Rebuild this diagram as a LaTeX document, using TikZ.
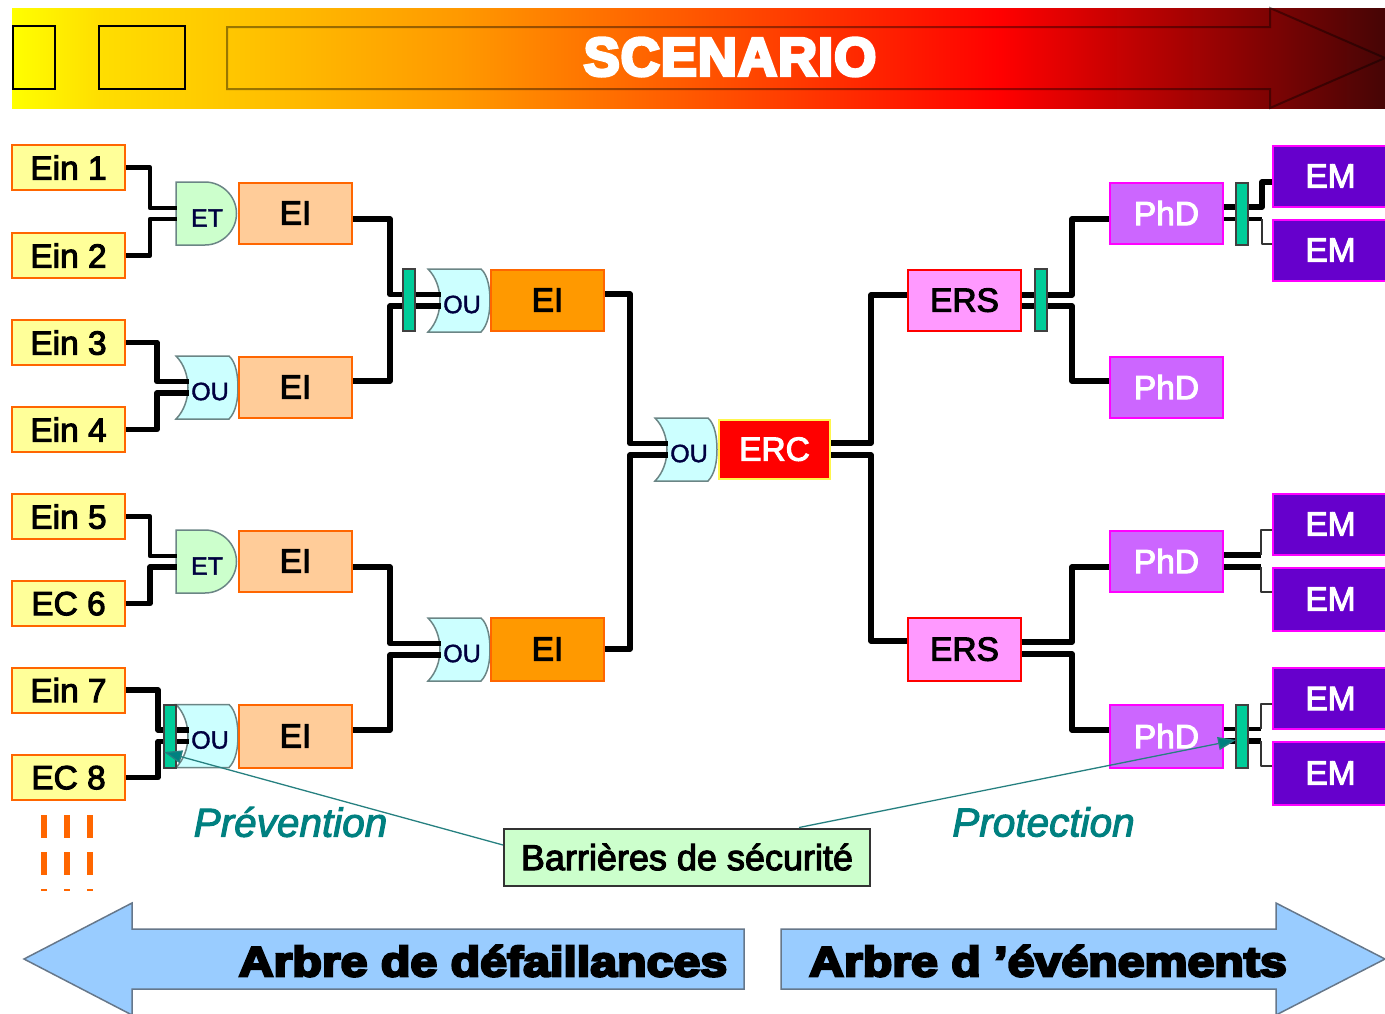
\documentclass[tikz,border=0pt]{standalone}
\usepackage{fontspec}
\usetikzlibrary{calc,arrows.meta}
\setmainfont{Liberation Sans}
\newfontfamily\boxf{Liberation Sans}[FakeBold=3]
\newfontfamily\gatef{Liberation Sans}[FakeBold=1.5]
\newfontfamily\heavyf{Liberation Sans}[BoldFeatures={FakeBold=6,FakeStretch=1.15}]
\newfontfamily\titlef{Liberation Sans}[BoldFeatures={FakeBold=6,LetterSpace=2}]
\newfontfamily\italf{Liberation Sans}[ItalicFeatures={FakeBold=2.5}]
\definecolor{cyel}{RGB}{255,255,0}
\definecolor{cyelb}{RGB}{255,222,0}
\definecolor{cyelc}{RGB}{255,198,0}
\definecolor{cora}{RGB}{255,153,0}
\definecolor{cred}{RGB}{255,0,0}
\definecolor{cdark}{RGB}{70,5,5}
\definecolor{inF}{HTML}{FFFF99}
\definecolor{oraB}{HTML}{FF6600}
\definecolor{eiF}{HTML}{FFCC99}
\definecolor{ei2F}{HTML}{FF9900}
\definecolor{ersF}{HTML}{FF99FF}
\definecolor{phdF}{HTML}{CC66FF}
\definecolor{mag}{HTML}{FF00FF}
\definecolor{emF}{HTML}{6600CC}
\definecolor{andF}{HTML}{CCFFCC}
\definecolor{orF}{HTML}{CCFFFF}
\definecolor{gateB}{HTML}{6B8585}
\definecolor{barF}{HTML}{00CC99}
\definecolor{teal2}{HTML}{008080}
\definecolor{arrF}{HTML}{99CCFF}
\definecolor{arrB}{HTML}{66778A}
\definecolor{navy2}{HTML}{000040}
\pgfdeclarehorizontalshading{bannershade}{100bp}{color(0bp)=(cyel);color(25bp)=(cyel);color(28.2bp)=(cyelb);color(33bp)=(cyelc);color(41.3bp)=(cora);color(61bp)=(cred);color(75bp)=(cdark);color(100bp)=(cdark)}
\tikzset{
  box/.style={draw,line width=2pt,inner sep=0pt,minimum width=113pt,text depth=0pt,
    font=\boxf\fontsize{33.5}{36}\selectfont},
  inbox/.style={box,fill=inF,draw=oraB,minimum height=45pt},
  eibox/.style={box,fill=eiF,draw=oraB,minimum height=61pt},
  ei2box/.style={box,fill=ei2F,draw=oraB,minimum height=61pt},
  ercbox/.style={box,fill=cred,draw=yellow!70!white,text=white,minimum width=111pt,minimum height=59pt},
  ersbox/.style={box,fill=ersF,draw=cred,minimum height=61pt},
  phdbox/.style={box,fill=phdF,draw=mag,text=white,minimum height=61pt},
  embox/.style={box,fill=emF,draw=mag,text=white,minimum width=115pt,minimum height=61pt},
  wire/.style={line width=5.5pt,line join=round,line cap=butt},
  medwire/.style={line width=4.5pt,line join=round},
  thinwire/.style={line width=1.8pt,line join=round,draw=black!80},
  gatelabel/.style={inner sep=0pt,text=navy2,font=\gatef\fontsize{25}{28}\selectfont},
  andshape/.style={fill=andF,draw=gateB,line width=1.5pt},
  orshape/.style={fill=orF,draw=gateB,line width=1.5pt},
  barrier/.style={draw=black!75,fill=barF,line width=2pt,minimum width=12pt,inner sep=0pt,minimum height=62pt},
  pointer/.style={draw=teal2!70!gray,line width=1.3pt,-{Triangle[length=18pt,width=13pt,fill=teal2]}},
  sidelabel/.style={inner sep=0pt,text=teal2,font=\italf\itshape\fontsize{40.5}{42}\selectfont},
  bigarrow/.style={fill=arrF,draw=arrB,line width=1.5pt,line join=miter},
  bigtext/.style={inner sep=0pt,font=\heavyf\bfseries\fontsize{42}{46}\selectfont},
  dashcol/.style={draw=oraB,line width=6.5pt,dash pattern=on 23pt off 14pt},
}
\newcommand{\andgate}[3]{%
  \begin{scope}[shift={(#2,#3)}]
    \path[andshape] (0,0) -- (29,0) .. controls (46,0) and (60.5,14) .. (60.5,31.5) .. controls (60.5,49) and (46,63) .. (29,63) -- (0,63) -- cycle;
    \node[gatelabel] (#1) at (31,36) {ET};
    \coordinate (#1a) at (1,26);
    \coordinate (#1b) at (1,37);
  \end{scope}}
\newcommand{\orgate}[3]{%
  \begin{scope}[shift={(#2,#3)}]
    \path[orshape] (0,0) -- (53,0) .. controls (60,6) and (62,20) .. (62,31.5) .. controls (62,43) and (60,56) .. (53,63) -- (0,63) .. controls (8,55) and (12,43) .. (12,31.5) .. controls (12,20) and (8,8) .. (0,0) -- cycle;
    \node[gatelabel] (#1) at (34,35.5) {OU};
    \coordinate (#1a) at (12.5,25.5);
    \coordinate (#1b) at (12.5,37);
  \end{scope}}
\begin{document}
\begin{tikzpicture}[x=1pt,y=-1pt]
\useasboundingbox (0,0) rectangle (1385,1013);
% banner
\fill[shading=bannershade] (12,8) rectangle (1385,108);
\draw[black,line width=2pt] (13,26) rectangle (55,89);
\draw[black,line width=2pt] (98.5,25.5) rectangle (185,89);
\draw[black,opacity=.4,line width=2pt] (227,27) -- (1270,27) -- (1270,8) -- (1385,58) -- (1270,108) -- (1270,89) -- (227,89) -- cycle;
\node[inner sep=0pt,text=white,font=\titlef\bfseries\fontsize{54}{58}\selectfont] (title) at (730,57) {SCENARIO};
% dashes
\foreach \x in {44,67,90}{\draw[dashcol] (\x,815) -- (\x,891);}
% gates
\andgate{g1}{176}{182}
\orgate{g2}{176}{356}
\andgate{g3}{176}{530}
\orgate{g4}{176}{704.5}
\orgate{g5}{428}{269}
\orgate{g6}{428}{618}
\orgate{g7}{655}{418}
% nodes
\node[inbox] (e1) at (68.5,167.5) {Ein 1};
\node[inbox] (e2) at (68.5,255.5) {Ein 2};
\node[inbox] (e3) at (68.5,342.5) {Ein 3};
\node[inbox] (e4) at (68.5,429.5) {Ein 4};
\node[inbox] (e5) at (68.5,516.5) {Ein 5};
\node[inbox] (e6) at (68.5,603.5) {EC 6};
\node[inbox] (e7) at (68.5,690) {Ein 7};
\node[inbox] (e8) at (68.5,777.5) {EC 8};
\node[eibox] (i1) at (295.5,213) {EI};
\node[eibox] (i2) at (295.5,387) {EI};
\node[eibox] (i3) at (295.5,561) {EI};
\node[eibox,minimum height=63pt] (i4) at (295.5,736) {EI};
\node[ei2box] (j1) at (547.5,300) {EI};
\node[ei2box,minimum height=63pt] (j2) at (547.5,649) {EI};
\node[ercbox] (erc) at (774.5,449) {ERC};
\node[ersbox] (s1) at (964.5,300) {ERS};
\node[ersbox,minimum height=63pt] (s2) at (964.5,649) {ERS};
\node[phdbox] (p1) at (1166.5,213) {PhD};
\node[phdbox] (p2) at (1166.5,387) {PhD};
\node[phdbox] (p3) at (1166.5,561) {PhD};
\node[phdbox,minimum height=63pt] (p4) at (1166.5,736) {PhD};
\node[embox] (m1) at (1330.5,176) {EM};
\node[embox] (m2) at (1330.5,250) {EM};
\node[embox] (m3) at (1330.5,524) {EM};
\node[embox,minimum height=63pt] (m4) at (1330.5,599) {EM};
\node[embox] (m5) at (1330.5,698.5) {EM};
\node[embox,minimum height=63pt] (m6) at (1330.5,773) {EM};
% left wires
\draw[medwire] (e1.east) -- ++(24,0) |- (g1a);
\draw[medwire] (e2.east) -- ++(24,0) |- (g1b);
\draw[wire] (e3.east) -- ++(31,0) |- (g2a);
\draw[wire] (e4.east) -- ++(31,0) |- (g2b);
\draw[medwire] (e5.east) -- ++(24,0) |- (g3a);
\draw[wire] (e6.east) -- ++(24,0) |- (g3b);
\draw[wire] (e7.east) -- ++(32,0) |- (g4a);
\draw[wire] (e8.east) -- ++(32,0) |- (g4b);
\draw[wire] ($(i1.east)+(0,6)$) -- ++(37,0) |- (g5a);
\draw[wire] ($(i2.east)+(0,-6)$) -- ++(37,0) |- (g5b);
\draw[wire] ($(i3.east)+(0,6)$) -- ++(37,0) |- (g6a);
\draw[wire] ($(i4.east)+(0,-6)$) -- ++(37,0) |- (g6b);
\draw[wire] ($(j1.east)+(0,-6)$) -- ++(25,0) |- (g7a);
\draw[wire] (j2.east) -- ++(25,0) |- (g7b);
% right wires
\draw[wire] ($(erc.east)+(0,-6)$) -- ++(40,0) |- ($(s1.west)+(0,-5)$);
\draw[wire] ($(erc.east)+(0,6)$) -- ++(40,0) |- ($(s2.west)+(0,-8)$);
\draw[wire] ($(s1.east)+(0,-5)$) -- ++(50,0) |- ($(p1.west)+(0,6)$);
\draw[wire] ($(s1.east)+(0,6)$) -- ++(50,0) |- ($(p2.west)+(0,-6)$);
\draw[wire] ($(s2.east)+(0,-7)$) -- ++(50,0) |- ($(p3.west)+(0,6)$);
\draw[wire] ($(s2.east)+(0,5)$) -- ++(50,0) |- ($(p4.west)+(0,-6)$);
% phd to em
\draw[wire] ($(p1.east)+(0,-6)$) -- ++(38,0) |- ($(m1.west)+(0,6)$);
\draw[medwire] ($(p1.east)+(0,6)$) -- ++(38,0) coordinate (c1);
\draw[thinwire] (c1) |- ($(m2.west)+(0,-6)$);
\draw[wire] ($(p3.east)+(0,-6)$) -- ++(37,0) coordinate (c2);
\draw[thinwire] (c2) |- ($(m3.west)+(0,6)$);
\draw[wire] ($(p3.east)+(0,6)$) -- ++(37,0) coordinate (c3);
\draw[thinwire] (c3) |- ($(m4.west)+(0,-7)$);
\draw[medwire] ($(p4.east)+(0,-7)$) -- ++(37,0) coordinate (c4);
\draw[thinwire] (c4) |- ($(m5.west)+(0,5.5)$);
\draw[wire] ($(p4.east)+(0,5)$) -- ++(37,0) coordinate (c5);
\draw[thinwire] (c5) |- ($(m6.west)+(0,-7)$);
% barriers
\node[barrier] (b1) at (409,300) {};
\node[barrier] (b2) at (1041,300) {};
\node[barrier] (b3) at (1242,213.5) {};
\node[barrier,minimum height=63pt] (b4) at (1242,736) {};
\node[barrier,minimum height=63pt] (b5) at (170,736) {};
% labels and callout
\node[sidelabel] (prev) at (290.5,822) {Prévention};
\node[sidelabel] (prot) at (1043.5,822) {Protection};
\node[draw=black!80,fill=andF,line width=2pt,minimum width=366pt,minimum height=57pt,inner sep=0pt,font=\boxf\fontsize{36}{38}\selectfont] (cb) at (687,857) {Barrières de sécurité};
\draw[pointer] ($(cb.west)+(0,-12)$) -- ($(b5.west)+(1,16)$);
\draw[pointer] ($(cb.north west)+(296,0)$) -- ($(b4.west)+(1,4)$);
% bottom arrows
\path[bigarrow] (744,929) -- (132,929) -- (132,903) -- (24,959) -- (132,1015) -- (132,989) -- (744,989) -- cycle;
\path[bigarrow] (781,929) -- (1276,929) -- (1276,903) -- (1385,959) -- (1276,1015) -- (1276,989) -- (781,989) -- cycle;
\node[bigtext] (ta) at (483,961) {Arbre de défaillances};
\node[bigtext] (tb) at (1048,961) {Arbre d ’événements};
\end{tikzpicture}
\end{document}
